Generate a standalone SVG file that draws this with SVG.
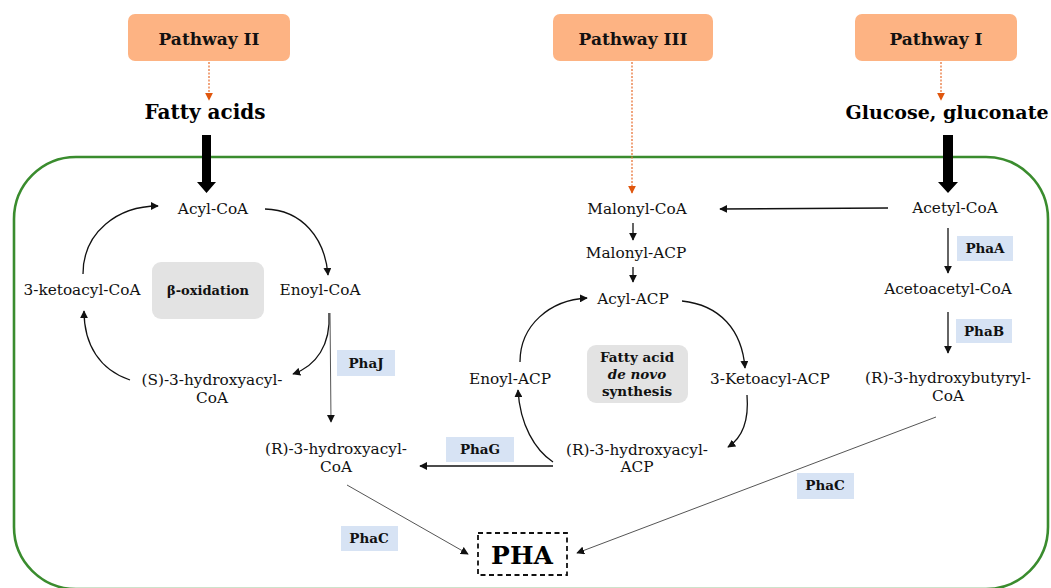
<svg xmlns="http://www.w3.org/2000/svg" width="1051" height="588" viewBox="0 0 1051 588">
<defs>
<style>
.lbl{font-family:"DejaVu Serif","Liberation Serif",serif;font-size:15.3px;fill:#111;text-anchor:middle}
.pw{font-family:"DejaVu Serif","Liberation Serif",serif;font-size:17px;font-weight:bold;fill:#111;text-anchor:middle}
.src{font-family:"DejaVu Serif","Liberation Serif",serif;font-size:20px;font-weight:bold;fill:#000;text-anchor:middle}
.enz{font-family:"DejaVu Serif","Liberation Serif",serif;font-size:13.5px;font-weight:bold;fill:#111;text-anchor:middle}
.pwbox{fill:#FDB383}
.enzbox{fill:#D7E3F4}
.cycbox{fill:#E3E3E3}
.dot{stroke:#E8763A;stroke-width:1.3;stroke-dasharray:2,1.5;fill:none}
.arr{stroke:#111;stroke-width:1.3;fill:none;marker-end:url(#ah)}
.thin{stroke:#555;stroke-width:1;fill:none;marker-end:url(#ah)}
</style>
<marker id="ah" viewBox="0 0 10 10" refX="9" refY="5" markerWidth="8" markerHeight="8" markerUnits="userSpaceOnUse" orient="auto"><path d="M0,0 L10,5 L0,10 Z" fill="#111"/></marker>
<marker id="oh" viewBox="0 0 10 10" refX="9" refY="5" markerWidth="8" markerHeight="8" markerUnits="userSpaceOnUse" orient="auto"><path d="M0,0 L10,5 L0,10 Z" fill="#E0560E"/></marker>
</defs>
<rect id="cell" x="14" y="157" width="1034" height="432" rx="62" ry="62" fill="none" stroke="#3A8C2E" stroke-width="2.6"/>
<g id="pathway2"><rect class="pwbox" x="128" y="14" width="162" height="47" rx="7"/><text class="pw" x="209" y="45">Pathway II</text></g>
<g id="pathway3"><rect class="pwbox" x="553" y="14" width="160" height="47" rx="7"/><text class="pw" x="633" y="45">Pathway III</text></g>
<g id="pathway1"><rect class="pwbox" x="855" y="14" width="162" height="47" rx="7"/><text class="pw" x="936" y="45">Pathway I</text></g>
<g id="fatty"><text class="src" x="205" y="119">Fatty acids</text></g>
<g id="glucose"><text class="src" x="947" y="119" style="font-size:19px">Glucose, gluconate</text></g>
<g id="connectors">
<path class="dot" d="M209,62 L209,100" marker-end="url(#oh)"/>
<path class="dot" d="M632,62 L632,193" marker-end="url(#oh)"/>
<path class="dot" d="M941,62 L941,100" marker-end="url(#oh)"/>
<path d="M202,135 H211 V182 H216 L206.5,193 L197,182 H202 Z" fill="#000"/>
<path d="M943,135 H953 V182 H958 L948,193 L938,182 H943 Z" fill="#000"/>
<path class="arr" d="M83,274 C83,232 118,206 158,206"/>
<path class="arr" d="M265,209 C302,210 325,238 328,275"/>
<path class="arr" d="M329,313 C331,345 316,366 293,374"/>
<path class="arr" d="M130,380 C100,370 84,345 84,311"/>
<path class="thin" d="M330,313 L331,422"/>
<path class="arr" d="M888,208 L720,209"/>
<path class="arr" d="M633,223 L633,240"/>
<path class="arr" d="M633,267 L633,282"/>
<path class="arr" d="M520,362 C520,325 550,300 587,298"/>
<path class="arr" d="M682,301 C720,305 742,330 745,368"/>
<path class="arr" d="M747,395 C749,420 742,438 728,447"/>
<path class="arr" d="M553,462 C535,450 520,425 518,390"/>
<path class="arr" d="M553,466 L420,466"/>
<path class="arr" d="M948,228 L948,273"/>
<path class="arr" d="M948,312 L948,353"/>
<path class="thin" d="M347,485 L468,554"/>
<path class="thin" d="M936,417 L577,553"/>
</g>
<g id="acylcoa"><text class="lbl" x="213" y="214">Acyl-CoA</text></g>
<g id="enoylcoa"><text class="lbl" x="320" y="295">Enoyl-CoA</text></g>
<g id="ketoacylcoa"><text class="lbl" x="82" y="295">3-ketoacyl-CoA</text></g>
<g id="boxidation"><rect class="cycbox" x="152" y="262" width="112" height="57" rx="9"/><text class="enz" x="208" y="295" style="font-size:13px">β-oxidation</text></g>
<g id="shydroxy"><text class="lbl" x="212" y="385">(S)-3-hydroxyacyl-</text><text class="lbl" x="212" y="403">CoA</text></g>
<g id="phaj"><rect class="enzbox" x="337" y="350" width="58" height="26"/><text class="enz" x="366" y="368">PhaJ</text></g>
<g id="rhydroxycoa"><text class="lbl" x="336" y="454">(R)-3-hydroxyacyl-</text><text class="lbl" x="336" y="472">CoA</text></g>
<g id="malonylcoa"><text class="lbl" x="637" y="214">Malonyl-CoA</text></g>
<g id="malonylacp"><text class="lbl" x="636" y="258">Malonyl-ACP</text></g>
<g id="acylacp"><text class="lbl" x="633" y="304">Acyl-ACP</text></g>
<g id="enoylacp"><text class="lbl" x="510" y="384">Enoyl-ACP</text></g>
<g id="denovo"><rect class="cycbox" x="587" y="345" width="101" height="58" rx="9"/><text class="enz" x="637" y="362">Fatty acid</text><text class="enz" x="637" y="379" style="font-style:italic">de novo</text><text class="enz" x="637" y="396">synthesis</text></g>
<g id="ketoacylacp"><text class="lbl" x="770" y="384">3-Ketoacyl-ACP</text></g>
<g id="rhydroxyacp"><text class="lbl" x="637" y="455">(R)-3-hydroxyacyl-</text><text class="lbl" x="637" y="472">ACP</text></g>
<g id="phag"><rect class="enzbox" x="446" y="437" width="68" height="25"/><text class="enz" x="480" y="454">PhaG</text></g>
<g id="acetylcoa"><text class="lbl" x="955" y="213">Acetyl-CoA</text></g>
<g id="phaa"><rect class="enzbox" x="957" y="236" width="56" height="25"/><text class="enz" x="985" y="253">PhaA</text></g>
<g id="acetoacetyl"><text class="lbl" x="948" y="294">Acetoacetyl-CoA</text></g>
<g id="phab"><rect class="enzbox" x="956" y="319" width="56" height="24"/><text class="enz" x="984" y="336">PhaB</text></g>
<g id="rhydroxybut"><text class="lbl" x="948" y="383">(R)-3-hydroxybutyryl-</text><text class="lbl" x="948" y="401">CoA</text></g>
<g id="phac1"><rect class="enzbox" x="341" y="526" width="57" height="25"/><text class="enz" x="369" y="543">PhaC</text></g>
<g id="phac2"><rect class="enzbox" x="797" y="473" width="57" height="26"/><text class="enz" x="825" y="490">PhaC</text></g>
<g id="pha"><rect x="478" y="533" width="89" height="42" fill="none" stroke="#111" stroke-width="1.8" stroke-dasharray="5,3.5"/><text x="522" y="564" style="font-family:'DejaVu Serif','Liberation Serif',serif;font-size:25px;font-weight:bold;fill:#000;text-anchor:middle">PHA</text></g>
</svg>
